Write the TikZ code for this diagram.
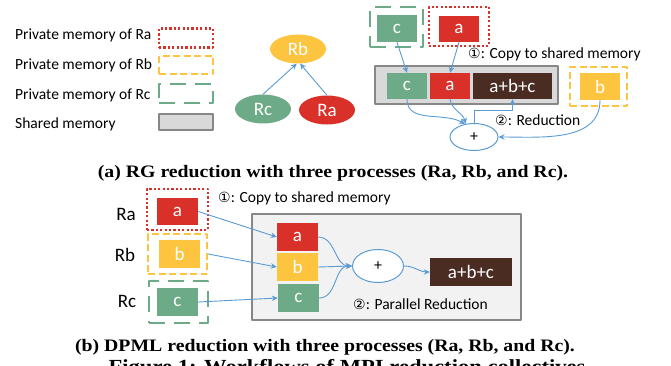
\documentclass[tikz,border=0pt]{standalone}
\usepackage{fontspec}
\setmainfont{Carlito}
\newfontfamily\captionserif{Liberation Serif}
\newfontfamily\circled{DejaVu Sans}
\usetikzlibrary{arrows.meta,shapes.geometric,positioning}

\definecolor{procred}{HTML}{D9312A}
\definecolor{procyellow}{HTML}{FDC43F}
\definecolor{procgreen}{HTML}{6DAA87}
\definecolor{sumbrown}{HTML}{4A2C22}
\definecolor{flowblue}{HTML}{5B9BD5}
\definecolor{shgray}{HTML}{D9D9D9}
\definecolor{shlight}{HTML}{F2F2F2}
\definecolor{shborder}{HTML}{878787}

\tikzset{
	val/.style={rectangle, inner sep=0pt, text=white, font=\fontsize{19}{20}\selectfont,
		minimum width=40pt, minimum height=27pt},
	aval/.style={val, fill=procred},
	bval/.style={val, fill=procyellow},
	cval/.style={val, fill=procgreen},
	sumval/.style={val, fill=sumbrown, minimum width=80pt},
	memA/.style={rectangle, draw=procred, line width=2.2pt, dash pattern=on 2.2pt off 2.2pt, inner sep=0pt},
	memB/.style={rectangle, draw=procyellow, line width=2.2pt, dash pattern=on 7pt off 3.5pt, inner sep=0pt},
	memC/.style={rectangle, draw=procgreen, line width=2.2pt, dash pattern=on 16pt off 9pt, inner sep=0pt},
	shared/.style={rectangle, draw=shborder, line width=1.8pt, inner sep=0pt},
	proc/.style={ellipse, inner sep=0pt, text=white, font=\fontsize{19}{20}\selectfont,
		minimum width=56pt, minimum height=29pt},
	adder/.style={ellipse, draw=flowblue, fill=white, line width=1pt, inner sep=0pt, font=\fontsize{16}{16}\selectfont},
	flow/.style={draw=flowblue, line width=0.9pt, -{Stealth[length=6pt,width=5.5pt]}},
	note/.style={font=\fontsize{15.5}{18}\selectfont, inner sep=0pt, anchor=west},
	caption/.style={font=\captionserif\bfseries\fontsize{17.5}{19}\selectfont, inner sep=0pt, xscale=1.13},
}

\begin{document}
\begin{tikzpicture}[x=1pt, y=1pt, line join=round]
	\useasboundingbox (0,0) rectangle (671,365);
	\clip (0,0) rectangle (671,365);

	% legend
	\node[note] (keyA) at (15,330) {Private memory of Ra};
	\node[note] (keyB) at (15,300) {Private memory of Rb};
	\node[note] (keyC) at (15,270) {Private memory of Rc};
	\node[note] (keyS) at (15,241) {Shared memory};
	\node[memA, minimum width=54pt, minimum height=19pt] (boxA) at (186,327) {};
	\node[memB, minimum width=54pt, minimum height=18pt] (boxB) at (186,300) {};
	\node[memC, minimum width=54pt, minimum height=19pt] (boxC) at (186,271.5) {};
	\node[shared, fill=shgray, minimum width=54pt, minimum height=16pt] (boxS) at (186,243) {};

	% reduction tree
	\node[proc, fill=procyellow] (Rb) at (298,316) {Rb};
	\node[proc, fill=procgreen] (Rc) at (263,256) {Rc};
	\node[proc, fill=procred] (Ra) at (327,255) {Ra};
	\draw[flow] (Rc.north) -- (Rb.265);
	\draw[flow] (Ra.north) -- (Rb.278);

	% (a) RG reduction
	\node[memC, minimum width=53pt, minimum height=40pt] (privC) at (396.5,338) {};
	\node[cval] (c1) at (397,336.5) {c};
	\node[memA, minimum width=60pt, minimum height=39pt] (privA) at (459,338.5) {};
	\node[aval, minimum height=26pt] (a1) at (459,336) {a};
	\node[note] (copy1) at (468,311) {{\circled\fontsize{14}{14}\selectfont ①}: Copy to shared memory};

	\node[shared, fill=shgray, minimum width=183pt, minimum height=38pt] (shm1) at (466.5,280) {};
	\node[cval, minimum height=26pt] (c2) at (407,279) {c};
	\node[aval, minimum height=26pt] (a2) at (450,279) {a};
	\node[sumval, minimum width=79pt, minimum height=26pt] (sum1) at (512.5,279) {a+b+c};
	\node[memB, minimum width=57pt, minimum height=39pt] (privB) at (598.5,278.5) {};
	\node[bval] (b1) at (600,278.5) {b};

	\node[adder, minimum width=48pt, minimum height=27pt] (add1) at (474,228) {+};
	\node[note] (red1) at (495,245) {{\circled\fontsize{14}{14}\selectfont ②}: Reduction};

	\draw[flow] (c1.south) -- (c2.north);
	\draw[flow] (a1.south) -- (a2.north);
	\draw[flow] (c2.south) to[out=-90, in=150] (add1.125);
	\draw[flow] (a2.south) to[out=-80, in=105] (add1.122);
	\draw[flow] (b1.south) to[out=-90, in=0] (add1.east);
	\draw[flow] (add1.north) -- ++(0,13) -| (sum1.south);

	\node[caption] (capA) at (333,192) {(a) RG reduction with three processes (Ra, Rb, and Rc).};

	% (b) DPML reduction
	\node[font=\fontsize{19}{20}\selectfont] (nameA) at (126,151) {Ra};
	\node[font=\fontsize{19}{20}\selectfont] (nameB) at (125,110) {Rb};
	\node[font=\fontsize{19}{20}\selectfont] (nameC) at (127,64) {Rc};

	\node[memA, minimum width=61pt, minimum height=41pt] (privA2) at (177.5,155.5) {};
	\node[aval, minimum width=41pt] (a3) at (177.5,153.5) {a};
	\node[memB, minimum width=59pt, minimum height=40pt] (privB2) at (177.5,111) {};
	\node[bval, minimum width=41pt, minimum height=28pt] (b3) at (179.5,111) {b};
	\node[memC, minimum width=59pt, minimum height=42pt] (privC2) at (178.5,63) {};
	\node[cval, minimum width=41pt, minimum height=28pt] (c3) at (177.5,63) {c};
	\node[note] (copy2) at (218,167) {{\circled\fontsize{14}{14}\selectfont ①}: Copy to shared memory};

	\node[shared, fill=shlight, minimum width=269pt, minimum height=106pt] (shm2) at (386.5,98) {};
	\node[aval, minimum width=41pt, minimum height=28pt] (a4) at (297.5,128) {a};
	\node[bval, minimum width=41pt, minimum height=28pt] (b4) at (297.5,98) {b};
	\node[cval, minimum width=41pt, minimum height=28pt] (c4) at (298.5,67) {c};
	\node[adder, minimum width=51pt, minimum height=33pt] (add2) at (378,99) {+};
	\node[sumval, minimum width=82pt, minimum height=28pt] (sum2) at (471,93) {a+b+c};
	\node[note] (red2) at (353,61) {{\circled\fontsize{14}{14}\selectfont ②}: Parallel Reduction};

	\draw[flow] (a3.east) -- (a4.west);
	\draw[flow] (privB2.east) -- (b4.west);
	\draw[flow] (c3.east) -- (c4.west);
	\draw[flow] (a4.east) to[out=0, in=180] (add2.west);
	\draw[flow] (b4.east) -- (add2.west);
	\draw[flow] (c4.east) to[out=0, in=180] (add2.west);
	\draw[flow] (add2.east) to[out=0, in=180] (sum2.west);

	\node[caption] (capB) at (325,18) {(b) DPML reduction with three processes (Ra, Rb, and Rc).};
	\node[caption, font=\captionserif\bfseries\fontsize{20}{22}\selectfont, anchor=base] (figcap) at (347,-8) {Figure 1: Workflows of MPI reduction collectives};
\end{tikzpicture}
\end{document}
